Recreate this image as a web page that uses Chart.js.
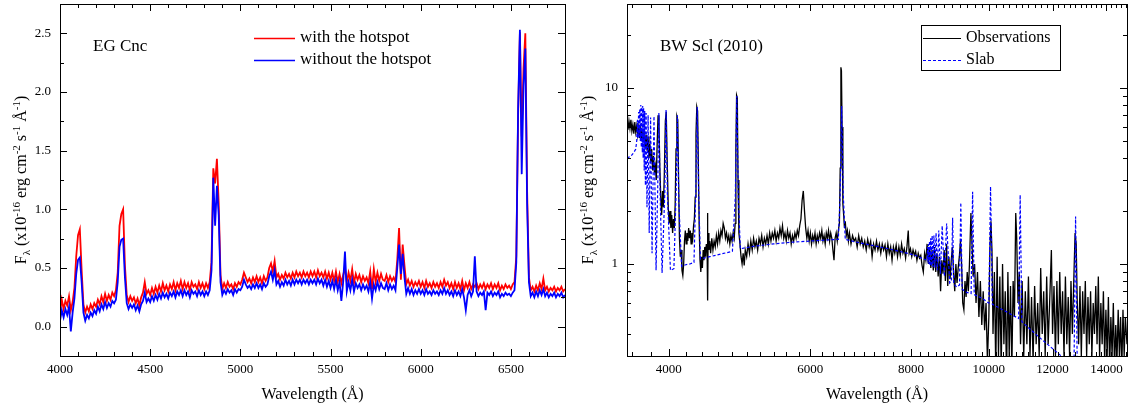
<!DOCTYPE html>
<html>
<head>
<meta charset="utf-8">
<script src="https://cdn.jsdelivr.net/npm/chart.js@4.4.1/dist/chart.umd.min.js"></script>
<style>
  html, body { margin: 0; padding: 0; background: #fff; }
  #wrap { position: relative; width: 1129px; height: 409px; }
  canvas { position: absolute; top: 0; }
  #egCanvas { left: 0; }
  #bwCanvas { left: 572px; }
</style>
</head>
<body>
<div id="wrap">
  <canvas id="egCanvas" width="572" height="409"></canvas>
  <canvas id="bwCanvas" width="557" height="409"></canvas>
</div>
<script>
// ---- EG Cnc: model spectra with / without the hotspot (10 A grid) ----
const egWave = [
  4000, 4010, 4020, 4030, 4040, 4050, 4060, 4070, 4080, 4090,
  4100, 4110, 4120, 4130, 4140, 4150, 4160, 4170, 4180, 4190,
  4200, 4210, 4220, 4230, 4240, 4250, 4260, 4270, 4280, 4290,
  4300, 4310, 4320, 4330, 4340, 4350, 4360, 4370, 4380, 4390,
  4400, 4410, 4420, 4430, 4440, 4450, 4460, 4470, 4480, 4490,
  4500, 4510, 4520, 4530, 4540, 4550, 4560, 4570, 4580, 4590,
  4600, 4610, 4620, 4630, 4640, 4650, 4660, 4670, 4680, 4690,
  4700, 4710, 4720, 4730, 4740, 4750, 4760, 4770, 4780, 4790,
  4800, 4810, 4820, 4830, 4840, 4850, 4860, 4870, 4880, 4890,
  4900, 4910, 4920, 4930, 4940, 4950, 4960, 4970, 4980, 4990,
  5000, 5010, 5020, 5030, 5040, 5050, 5060, 5070, 5080, 5090,
  5100, 5110, 5120, 5130, 5140, 5150, 5160, 5170, 5180, 5190,
  5200, 5210, 5220, 5230, 5240, 5250, 5260, 5270, 5280, 5290,
  5300, 5310, 5320, 5330, 5340, 5350, 5360, 5370, 5380, 5390,
  5400, 5410, 5420, 5430, 5440, 5450, 5460, 5470, 5480, 5490,
  5500, 5510, 5520, 5530, 5540, 5550, 5560, 5570, 5580, 5590,
  5600, 5610, 5620, 5630, 5640, 5650, 5660, 5670, 5680, 5690,
  5700, 5710, 5720, 5730, 5740, 5750, 5760, 5770, 5780, 5790,
  5800, 5810, 5820, 5830, 5840, 5850, 5860, 5870, 5880, 5890,
  5900, 5910, 5920, 5930, 5940, 5950, 5960, 5970, 5980, 5990,
  6000, 6010, 6020, 6030, 6040, 6050, 6060, 6070, 6080, 6090,
  6100, 6110, 6120, 6130, 6140, 6150, 6160, 6170, 6180, 6190,
  6200, 6210, 6220, 6230, 6240, 6250, 6260, 6270, 6280, 6290,
  6300, 6310, 6320, 6330, 6340, 6350, 6360, 6370, 6380, 6390,
  6400, 6410, 6420, 6430, 6440, 6450, 6460, 6470, 6480, 6490,
  6500, 6510, 6520, 6530, 6540, 6550, 6560, 6570, 6580, 6590,
  6600, 6610, 6620, 6630, 6640, 6650, 6660, 6670, 6680, 6690,
  6700, 6710, 6720, 6730, 6740, 6750, 6760, 6770, 6780, 6790,
  6800
];

const egWithSpot = [
  0.12, 0.23, 0.15, 0.22, 0.18, 0.26, 0.14, 0.21, 0.33, 0.60,
  0.78, 0.83, 0.48, 0.19, 0.12, 0.17, 0.13, 0.19, 0.15, 0.20,
  0.17, 0.23, 0.19, 0.26, 0.21, 0.28, 0.22, 0.27, 0.23, 0.29,
  0.26, 0.31, 0.46, 0.86, 0.96, 1.00, 0.52, 0.27, 0.21, 0.26,
  0.22, 0.25, 0.20, 0.24, 0.18, 0.25, 0.29, 0.38, 0.28, 0.31,
  0.27, 0.33, 0.28, 0.34, 0.29, 0.35, 0.30, 0.37, 0.31, 0.35,
  0.30, 0.36, 0.32, 0.38, 0.31, 0.37, 0.33, 0.39, 0.32, 0.38,
  0.33, 0.37, 0.31, 0.38, 0.34, 0.36, 0.32, 0.38, 0.33, 0.37,
  0.32, 0.37, 0.33, 0.38, 0.55, 1.35, 1.22, 1.43, 1.05, 0.44,
  0.32, 0.37, 0.33, 0.38, 0.34, 0.36, 0.32, 0.37, 0.34, 0.38,
  0.36, 0.40, 0.46, 0.42, 0.38, 0.41, 0.37, 0.42, 0.38, 0.43,
  0.38, 0.42, 0.37, 0.43, 0.39, 0.42, 0.50, 0.54, 0.47, 0.56,
  0.42, 0.45, 0.40, 0.44, 0.41, 0.46, 0.42, 0.45, 0.41, 0.46,
  0.42, 0.47, 0.43, 0.46, 0.42, 0.47, 0.43, 0.46, 0.42, 0.47,
  0.43, 0.47, 0.42, 0.48, 0.43, 0.46, 0.42, 0.47, 0.41, 0.46,
  0.40, 0.46, 0.39, 0.47, 0.38, 0.45, 0.37, 0.44, 0.50, 0.38,
  0.46, 0.39, 0.49, 0.37, 0.45, 0.40, 0.44, 0.38, 0.43, 0.39,
  0.42, 0.37, 0.47, 0.32, 0.49, 0.38, 0.46, 0.39, 0.45, 0.40,
  0.39, 0.44, 0.38, 0.43, 0.39, 0.42, 0.38, 0.57, 0.84, 0.40,
  0.70, 0.52, 0.36, 0.40, 0.35, 0.39, 0.34, 0.38, 0.35, 0.39,
  0.34, 0.38, 0.33, 0.39, 0.34, 0.37, 0.33, 0.38, 0.34, 0.37,
  0.33, 0.38, 0.34, 0.40, 0.35, 0.38, 0.33, 0.37, 0.32, 0.38,
  0.33, 0.37, 0.32, 0.39, 0.31, 0.37, 0.33, 0.38, 0.32, 0.36,
  0.34, 0.37, 0.32, 0.36, 0.33, 0.37, 0.32, 0.36, 0.33, 0.37,
  0.32, 0.36, 0.33, 0.37, 0.31, 0.35, 0.32, 0.36, 0.33, 0.35,
  0.32, 0.36, 0.38, 0.60, 1.80, 2.51, 1.62, 2.20, 2.50, 1.15,
  0.42, 0.31, 0.34, 0.30, 0.35, 0.31, 0.37, 0.32, 0.41, 0.31,
  0.34, 0.30, 0.33, 0.31, 0.34, 0.30, 0.33, 0.31, 0.34, 0.30,
  0.32
];

const egNoSpot = [
  0.05, 0.14, 0.08, 0.15, 0.10, 0.17, -0.04, 0.12, 0.24, 0.45,
  0.57, 0.59, 0.38, 0.12, 0.05, 0.10, 0.07, 0.12, 0.09, 0.14,
  0.11, 0.17, 0.13, 0.19, 0.15, 0.21, 0.16, 0.20, 0.17, 0.22,
  0.20, 0.23, 0.38, 0.68, 0.74, 0.75, 0.42, 0.20, 0.15, 0.19,
  0.16, 0.19, 0.14, 0.18, 0.13, 0.19, 0.22, 0.29, 0.21, 0.24,
  0.21, 0.26, 0.22, 0.27, 0.23, 0.28, 0.24, 0.29, 0.25, 0.28,
  0.24, 0.29, 0.26, 0.30, 0.25, 0.30, 0.27, 0.31, 0.26, 0.31,
  0.27, 0.30, 0.25, 0.31, 0.28, 0.30, 0.26, 0.31, 0.27, 0.30,
  0.26, 0.30, 0.27, 0.31, 0.48, 1.27, 0.86, 1.20, 0.95, 0.38,
  0.27, 0.31, 0.28, 0.32, 0.29, 0.31, 0.27, 0.32, 0.29, 0.32,
  0.31, 0.34, 0.40, 0.36, 0.33, 0.35, 0.32, 0.36, 0.33, 0.37,
  0.33, 0.36, 0.32, 0.37, 0.34, 0.36, 0.43, 0.47, 0.40, 0.48,
  0.36, 0.39, 0.34, 0.38, 0.35, 0.40, 0.36, 0.39, 0.35, 0.40,
  0.36, 0.40, 0.37, 0.40, 0.36, 0.40, 0.37, 0.40, 0.36, 0.40,
  0.37, 0.40, 0.36, 0.41, 0.37, 0.40, 0.35, 0.40, 0.34, 0.39,
  0.33, 0.39, 0.32, 0.40, 0.31, 0.38, 0.22, 0.38, 0.64, 0.30,
  0.38, 0.31, 0.40, 0.30, 0.37, 0.33, 0.36, 0.31, 0.36, 0.32,
  0.35, 0.30, 0.38, 0.24, 0.36, 0.31, 0.38, 0.32, 0.37, 0.33,
  0.32, 0.37, 0.31, 0.36, 0.32, 0.35, 0.31, 0.50, 0.70, 0.45,
  0.62, 0.42, 0.28, 0.33, 0.28, 0.32, 0.27, 0.31, 0.28, 0.32,
  0.28, 0.31, 0.27, 0.32, 0.28, 0.30, 0.27, 0.31, 0.28, 0.30,
  0.27, 0.31, 0.28, 0.33, 0.28, 0.31, 0.27, 0.30, 0.26, 0.31,
  0.27, 0.30, 0.26, 0.32, 0.25, 0.14, 0.27, 0.31, 0.26, 0.30,
  0.60, 0.30, 0.26, 0.29, 0.27, 0.30, 0.14, 0.29, 0.27, 0.30,
  0.26, 0.29, 0.27, 0.30, 0.25, 0.28, 0.26, 0.29, 0.27, 0.28,
  0.26, 0.29, 0.31, 0.55, 1.85, 2.53, 1.30, 2.05, 2.37, 1.05,
  0.38, 0.26, 0.29, 0.25, 0.30, 0.26, 0.31, 0.27, 0.32, 0.26,
  0.29, 0.25, 0.28, 0.26, 0.29, 0.25, 0.28, 0.26, 0.29, 0.25,
  0.27
];

const egXLabels = [4000, 4500, 5000, 5500, 6000, 6500];
const egYLabels = [0, 0.5, 1, 1.5, 2, 2.5];

// ---- BW Scl (2010): observed spectrum and slab model ----
const bwObsWave = [
  3550, 3560, 3570, 3580, 3590, 3600, 3610, 3620, 3630, 3640,
  3650, 3660, 3670, 3680, 3690, 3700, 3710, 3720, 3730, 3740,
  3750, 3760, 3770, 3780, 3790, 3800, 3810, 3820, 3830, 3840,
  3850, 3860, 3870, 3880, 3890, 3900, 3910, 3920, 3930, 3940,
  3950, 3962, 3972, 3982, 3995, 4005, 4015, 4025, 4035, 4045,
  4055, 4065, 4075, 4085, 4095, 4105, 4115, 4125, 4135, 4145,
  4155, 4165, 4175, 4185, 4195, 4205, 4215, 4225, 4235, 4245,
  4255, 4265, 4275, 4285, 4295, 4305, 4315, 4325, 4335, 4345,
  4355, 4365, 4375, 4385, 4395, 4405, 4415, 4425, 4435, 4445,
  4455, 4465, 4470, 4473, 4478, 4488, 4498, 4510, 4525, 4540,
  4555, 4570, 4585, 4600, 4615, 4630, 4645, 4660, 4675, 4690,
  4705, 4720, 4735, 4750, 4765, 4780, 4795, 4810, 4825, 4838,
  4848, 4858, 4868, 4878, 4890, 4905, 4920, 4935, 4950, 4965,
  4980, 5000, 5020, 5040, 5060, 5080, 5100, 5120, 5140, 5160,
  5180, 5200, 5220, 5240, 5260, 5280, 5300, 5320, 5340, 5360,
  5380, 5400, 5420, 5440, 5460, 5480, 5500, 5520, 5540, 5560,
  5580, 5600, 5620, 5640, 5660, 5680, 5700, 5720, 5740, 5760,
  5780, 5800, 5820, 5840, 5860, 5880, 5900, 5920, 5940, 5960,
  5980, 6000, 6020, 6040, 6060, 6080, 6100, 6120, 6140, 6160,
  6180, 6200, 6220, 6240, 6260, 6280, 6300, 6320, 6340, 6360,
  6380, 6400, 6420, 6440, 6460, 6480, 6500, 6520, 6535, 6548,
  6558, 6570, 6585, 6600, 6615, 6630, 6650, 6670, 6690, 6710,
  6740, 6770, 6800, 6830, 6860, 6890, 6920, 6950, 6980, 7010,
  7040, 7070, 7100, 7130, 7160, 7190, 7220, 7250, 7280, 7310,
  7340, 7370, 7400, 7430, 7460, 7490, 7520, 7550, 7580, 7610,
  7640, 7670, 7700, 7730, 7760, 7790, 7820, 7850, 7880, 7910,
  7940, 7960, 7990, 8020, 8050, 8080, 8110, 8140, 8170, 8200,
  8230, 8260, 8290, 8320, 8350, 8380, 8410, 8440, 8470, 8500,
  8530, 8560, 8590, 8620, 8650, 8680, 8710, 8740, 8770, 8800,
  8830, 8860, 8890, 8920, 8950, 8980, 9010, 9040, 9070, 9100,
  9130, 9160, 9190, 9220, 9250, 9280, 9310, 9340, 9370, 9400,
  9430, 9460, 9500, 9530, 9560, 9600, 9640, 9680, 9720, 9760,
  9800, 9840, 9880, 9920, 9960, 10000, 10030, 10060, 10090, 10120,
  10160, 10200, 10240, 10280, 10320, 10360, 10400, 10440, 10480, 10520,
  10560, 10600, 10640, 10680, 10720, 10760, 10800, 10830, 10870, 10910,
  10950, 11000, 11050, 11100, 11150, 11200, 11250, 11300, 11350, 11400,
  11450, 11500, 11550, 11600, 11650, 11700, 11750, 11800, 11850, 11900,
  11960, 12000, 12050, 12100, 12150, 12200, 12250, 12300, 12350, 12400,
  12450, 12500, 12550, 12600, 12650, 12700, 12760, 12800, 12840, 12880,
  12930, 12980, 13030, 13080, 13130, 13180, 13230, 13280, 13330, 13380,
  13430, 13480, 13530, 13580, 13630, 13680, 13730, 13780, 13830, 13880,
  13930, 13980, 14030, 14080, 14130, 14180, 14230, 14280, 14330, 14380,
  14430, 14480, 14530, 14580, 14630, 14680, 14730, 14780, 14850
];

const bwObsFlux = [
  6.3, 5.8, 6.5, 5.9, 6.6, 5.7, 6.2, 5.5, 6.4, 5.6,
  6.1, 5.4, 6.0, 5.2, 6.1, 5.0, 5.8, 4.9, 5.7, 4.6,
  5.4, 4.4, 5.3, 4.0, 4.8, 3.8, 4.5, 3.4, 4.1, 3.3,
  3.6, 3.0, 4.8, 7.0, 6.2, 3.5, 2.4, 1.9, 2.6, 2.1,
  3.2, 6.5, 7.3, 4.0, 2.1, 1.7, 2.0, 1.6, 1.9, 1.5,
  1.8, 1.6, 2.2, 4.5, 6.9, 6.6, 3.0, 1.4, 1.1, 1.2,
  0.92, 0.86, 1.0, 1.35, 1.55, 1.3, 1.5, 1.35, 1.6, 1.4,
  1.55, 1.3, 1.5, 1.4, 1.65, 1.8, 2.4, 5.5, 7.8, 7.4,
  3.5, 1.6, 1.05, 0.9, 1.1, 0.95, 1.2, 1.05, 1.25, 1.1,
  1.3, 1.2, 1.95, 0.62, 1.5, 1.2, 1.35, 1.15, 1.4, 1.2,
  1.35, 1.25, 1.45, 1.3, 1.5, 1.35, 1.55, 1.45, 1.7, 1.6,
  1.4, 1.5, 1.35, 1.45, 1.3, 1.45, 1.35, 1.5, 1.4, 1.7,
  4.5, 9.1, 8.8, 3.0, 1.5, 1.3, 1.1, 1.0, 1.15, 0.98,
  1.2, 1.1, 1.3, 1.15, 1.35, 1.2, 1.4, 1.25, 1.35, 1.2,
  1.4, 1.3, 1.45, 1.25, 1.4, 1.3, 1.45, 1.3, 1.5, 1.35,
  1.5, 1.4, 1.55, 1.35, 1.5, 1.4, 1.6, 1.45, 1.65, 1.4,
  1.5, 1.35, 1.55, 1.4, 1.5, 1.3, 1.45, 1.35, 1.5, 1.4,
  1.55, 1.45, 1.65, 1.8, 2.3, 2.6, 2.0, 1.6, 1.4, 1.55,
  1.35, 1.5, 1.3, 1.45, 1.35, 1.5, 1.3, 1.45, 1.35, 1.5,
  1.4, 1.55, 1.35, 1.45, 1.3, 1.5, 1.4, 1.55, 1.35, 1.5,
  1.4, 1.2, 1.05, 1.4, 1.5, 1.35, 1.55, 1.7, 3.5, 13.1,
  12.5, 6.0, 2.2, 1.9, 1.6, 1.75, 1.45, 1.55, 1.35, 1.5,
  1.3, 1.45, 1.35, 1.4, 1.25, 1.45, 1.3, 1.4, 1.25, 1.35,
  1.2, 1.38, 1.25, 1.35, 1.1, 1.3, 1.2, 1.35, 1.2, 1.3,
  1.15, 1.3, 1.2, 1.28, 1.1, 1.3, 1.15, 1.25, 1.05, 1.25,
  1.15, 1.28, 1.1, 1.25, 1.12, 1.3, 1.15, 1.22, 1.08, 1.25,
  1.55, 1.15, 1.22, 1.1, 1.2, 1.12, 1.18, 1.05, 1.15, 1.08,
  1.12, 0.98, 0.9, 1.15, 1.05, 1.3, 1.0, 1.25, 0.95, 1.2,
  0.92, 1.25, 0.9, 1.15, 0.85, 1.1, 0.7, 1.05, 0.88, 1.2,
  0.8, 1.3, 0.75, 1.1, 0.82, 1.05, 1.25, 0.9, 0.7, 1.0,
  0.78, 0.95, 1.1, 1.35, 1.0, 0.6, 0.55, 0.8, 0.65, 0.9,
  0.7, 1.0, 1.95, 1.3, 0.85, 1.0, 0.6, 0.9, 0.5, 0.8,
  0.45, 0.7, 0.42, 0.6, 0.28, 0.5, 1.2, 1.75, 1.2, 0.4,
  0.9, 0.25, 1.1, 0.3, 0.85, 0.25, 1.0, 0.35, 0.7, 0.22,
  0.9, 0.3, 0.75, 0.25, 0.8, 0.5, 1.95, 1.4, 0.6, 0.9,
  0.35, 0.8, 0.3, 0.7, 0.35, 0.85, 0.3, 0.65, 0.28, 0.75,
  0.35, 0.6, 0.3, 0.95, 0.4, 0.7, 0.3, 0.85, 0.35, 0.6,
  1.2, 0.4, 0.75, 0.3, 0.8, 0.35, 0.9, 0.4, 0.7, 0.3,
  0.85, 0.35, 0.65, 0.3, 0.8, 0.4, 0.9, 1.5, 1.3, 0.6,
  0.35, 0.75, 0.3, 0.7, 0.4, 0.8, 0.3, 0.65, 0.35, 0.7,
  0.3, 0.6, 0.4, 0.75, 0.35, 0.85, 0.3, 0.6, 0.35, 0.7,
  0.28, 0.55, 0.3, 0.65, 0.25, 0.5, 0.3, 0.6, 0.25, 0.45,
  0.28, 0.55, 0.3, 0.5, 0.25, 0.55, 0.3, 0.5, 0.35
];

const slabWave = [
  3550, 3590, 3620, 3640, 3650, 3658, 3664, 3670, 3676, 3682,
  3688, 3693, 3698, 3704, 3709, 3713, 3718, 3723, 3729, 3735,
  3742, 3750, 3759, 3771, 3783, 3798, 3814, 3835, 3858, 3875,
  3889, 3903, 3925, 3955, 3970, 3985, 4020, 4060, 4085, 4101,
  4117, 4150, 4200, 4250, 4300, 4322, 4340, 4358, 4380, 4500,
  4650, 4800, 4840, 4861, 4882, 4910, 5100, 5400, 5700, 6000,
  6300, 6500, 6535, 6563, 6592, 6630, 6900, 7200, 7500, 7800,
  8100, 8250, 8380, 8392, 8403, 8413, 8425, 8438, 8452, 8467,
  8485, 8502, 8523, 8545, 8570, 8598, 8630, 8665, 8705, 8750,
  8805, 8862, 8940, 8985, 9015, 9045, 9120, 9195, 9229, 9263,
  9380, 9505, 9546, 9590, 9800, 10000, 10049, 10100, 10400, 10890,
  10938, 10990, 11500, 12200, 12760, 12818, 12880, 14850
];

const slabFlux = [
  4.0, 4.1, 4.3, 4.5, 5.0, 6.6, 5.2, 7.3, 5.3, 7.6,
  5.0, 8.0, 4.6, 7.8, 4.3, 7.9, 4.0, 7.7, 3.4, 7.4,
  2.8, 7.2, 2.1, 7.0, 1.5, 6.8, 1.15, 6.9, 0.92, 2.5,
  7.2, 2.5, 0.89, 2.5, 7.5, 2.5, 0.92, 0.94, 2.5, 7.0,
  2.3, 0.97, 0.99, 1.0, 1.02, 2.5, 7.8, 2.5, 1.07, 1.1,
  1.14, 1.18, 2.4, 9.0, 2.4, 1.22, 1.26, 1.3, 1.33, 1.35,
  1.37, 1.38, 2.5, 7.9, 2.5, 1.38, 1.32, 1.27, 1.22, 1.17,
  1.12, 1.08, 1.05, 1.25, 1.02, 1.3, 1.0, 1.35, 0.98, 1.4,
  0.97, 1.45, 0.96, 1.45, 0.95, 1.5, 0.92, 1.55, 0.88, 1.65,
  0.85, 1.7, 0.78, 0.8, 1.83, 0.77, 0.74, 0.76, 2.23, 0.72,
  0.69, 0.68, 2.57, 0.67, 0.64, 0.6, 2.75, 0.59, 0.55, 0.49,
  2.47, 0.47, 0.39, 0.31, 0.26, 1.86, 0.25, 0.17
];

const bwXLabels = [4000, 6000, 8000, 10000, 12000, 14000];
const bwYLabels = [1, 10];

// ---- shared look ----
const SERIF = '"Liberation Serif", "Times New Roman", serif';
Chart.defaults.font.family = SERIF;
Chart.defaults.color = '#000';

const fluxTitle = [
  { t: 'F', s: 16 }, { t: 'λ', s: 11, dy: 4 },
  { t: ' (x10', s: 16 }, { t: '-16', s: 11, dy: -6 },
  { t: ' erg cm', s: 16 }, { t: '-2', s: 11, dy: -6 },
  { t: ' s', s: 16 }, { t: '-1', s: 11, dy: -6 },
  { t: ' Å', s: 16 }, { t: '-1', s: 11, dy: -6 },
  { t: ')', s: 16 }
];

function drawRich(ctx, runs, cx, cy, angle) {
  ctx.save();
  ctx.translate(cx, cy);
  ctx.rotate(angle);
  let total = 0;
  const widths = runs.map(r => {
    ctx.font = r.s + 'px ' + SERIF;
    const w = ctx.measureText(r.t).width;
    total += w;
    return w;
  });
  let x = -total / 2;
  ctx.textBaseline = 'alphabetic';
  ctx.textAlign = 'left';
  runs.forEach((r, i) => {
    ctx.font = r.s + 'px ' + SERIF;
    ctx.fillText(r.t, x, 5.5 + (r.dy || 0));
    x += widths[i];
  });
  ctx.restore();
}

// frame round the plot area with inward ticks on all four sides
const frameTicks = {
  id: 'frameTicks',
  afterDatasetsDraw(chart, args, o) {
    const { ctx, chartArea: a, scales } = chart;
    ctx.save();
    ctx.strokeStyle = '#000';
    ctx.lineWidth = 1;
    ctx.beginPath();
    o.xTicks.forEach(t => {
      const px = Math.round(scales.x.getPixelForValue(t.v)) + 0.5;
      ctx.moveTo(px, a.bottom); ctx.lineTo(px, a.bottom - t.len);
      ctx.moveTo(px, a.top); ctx.lineTo(px, a.top + t.len);
    });
    o.yTicks.forEach(t => {
      const py = Math.round(scales.y.getPixelForValue(t.v)) + 0.5;
      ctx.moveTo(a.left, py); ctx.lineTo(a.left + t.len, py);
      ctx.moveTo(a.right, py); ctx.lineTo(a.right - t.len, py);
    });
    ctx.stroke();
    ctx.strokeRect(Math.round(a.left) + 0.5, Math.round(a.top) + 0.5,
      Math.round(a.right - a.left), Math.round(a.bottom - a.top));
    ctx.restore();
  }
};

// object name, legend and axis titles
const annotate = {
  id: 'annotate',
  afterDraw(chart, args, o) {
    const { ctx, chartArea: a } = chart;
    ctx.save();
    ctx.fillStyle = '#000';
    ctx.textBaseline = 'middle';
    ctx.textAlign = 'left';
    ctx.font = o.nameSize + 'px ' + SERIF;
    ctx.fillText(o.name, o.nameX, o.nameY);

    const L = o.legend;
    if (L.box) {
      ctx.strokeStyle = '#000';
      ctx.lineWidth = 1;
      ctx.strokeRect(L.box[0] + 0.5, L.box[1] + 0.5, L.box[2], L.box[3]);
    }
    ctx.font = L.size + 'px ' + SERIF;
    chart.data.datasets.forEach((ds, i) => {
      const y = L.y + i * L.row;
      ctx.strokeStyle = ds.borderColor;
      ctx.lineWidth = L.lineWidth;
      ctx.setLineDash(ds.borderDash || []);
      ctx.beginPath();
      ctx.moveTo(L.x, y + 0.5);
      ctx.lineTo(L.x + L.len, y + 0.5);
      ctx.stroke();
      ctx.setLineDash([]);
      ctx.fillText(ds.label, L.x + L.len + L.gap, y);
    });

    drawRich(ctx, fluxTitle, o.yTitleX, (a.top + a.bottom) / 2, -Math.PI / 2);
    ctx.font = '16px ' + SERIF;
    ctx.textAlign = 'center';
    ctx.fillText('Wavelength (Å)', (a.left + a.right) / 2, o.xTitleY);
    ctx.restore();
  }
};

function pairs(xs, ys) {
  return xs.map((x, i) => ({ x: x, y: ys[i] }));
}

function tickList(from, to, step, majors) {
  const out = [];
  for (let v = from; v <= to + 1e-9; v += step) {
    const r = Math.round(v * 1000) / 1000;
    out.push({ v: r, len: majors.includes(r) ? 7 : 4 });
  }
  return out;
}

// fixed plot box: no extra room for half tick labels
function fixSize(w, h) {
  return s => {
    if (w !== null) s.width = w;
    if (h !== null) s.height = h;
    s.paddingTop = 0; s.paddingBottom = 0;
    s.paddingLeft = 0; s.paddingRight = 0;
  };
}

const hidden = { grid: { display: false, drawTicks: false }, border: { display: false } };

// ---- left: EG Cnc ----
new Chart(document.getElementById('egCanvas'), {
  type: 'line',
  data: {
    datasets: [
      {
        label: 'with the hotspot',
        data: pairs(egWave, egWithSpot),
        borderColor: '#ff0000',
        borderWidth: 1.8,
        order: 1
      },
      {
        label: 'without the hotspot',
        data: pairs(egWave, egNoSpot),
        borderColor: '#0000ff',
        borderWidth: 1.8,
        order: 0
      }
    ]
  },
  options: {
    responsive: false,
    animation: false,
    events: [],
    elements: { point: { radius: 0 }, line: { tension: 0 } },
    layout: { padding: { left: 0, right: 7, top: 4, bottom: 0 } },
    scales: {
      x: Object.assign({}, hidden, {
        type: 'linear', min: 4000, max: 6800,
        afterFit: fixSize(null, 53),
        afterBuildTicks: s => { s.ticks = egXLabels.map(v => ({ value: v })); },
        ticks: { font: { size: 13 }, autoSkip: false, maxRotation: 0, padding: 6,
          callback: v => String(v) }
      }),
      y: Object.assign({}, hidden, {
        type: 'linear', min: -0.25, max: 2.75,
        afterFit: fixSize(60, null),
        afterBuildTicks: s => { s.ticks = egYLabels.map(v => ({ value: v })); },
        ticks: { font: { size: 13 }, autoSkip: false, padding: 9,
          callback: v => Number(v).toFixed(1) }
      })
    },
    plugins: {
      legend: { display: false },
      tooltip: { enabled: false },
      frameTicks: {
        xTicks: tickList(4000, 6800, 100, egXLabels),
        yTicks: tickList(-0.25, 2.75, 0.25, egYLabels)
      },
      annotate: {
        name: 'EG Cnc', nameX: 93, nameY: 47, nameSize: 17,
        legend: { x: 254, y: 38, row: 22, len: 41, gap: 5, size: 17, lineWidth: 1.5 },
        yTitleX: 20, xTitleY: 395
      }
    }
  },
  plugins: [frameTicks, annotate]
});

// ---- right: BW Scl ----
const bwMinor = [];
for (let w = 3600; w <= 14800; w += 200) bwMinor.push(w);
const bwYTickVals = [0.3, 0.4, 0.5, 0.6, 0.7, 0.8, 0.9, 1, 2, 3, 4, 5, 6, 7, 8, 9, 10, 20, 30];

new Chart(document.getElementById('bwCanvas'), {
  type: 'line',
  data: {
    datasets: [
      {
        label: 'Observations',
        data: pairs(bwObsWave, bwObsFlux),
        borderColor: '#000000',
        borderWidth: 1.3,
        order: 1
      },
      {
        label: 'Slab',
        data: pairs(slabWave, slabFlux),
        borderColor: '#0000ff',
        borderWidth: 1.2,
        borderDash: [3, 2],
        order: 0
      }
    ]
  },
  options: {
    responsive: false,
    animation: false,
    events: [],
    elements: { point: { radius: 0 }, line: { tension: 0 } },
    layout: { padding: { left: 0, right: 2, top: 4, bottom: 0 } },
    scales: {
      x: Object.assign({}, hidden, {
        type: 'logarithmic', min: 3550, max: 14850,
        afterFit: fixSize(null, 53),
        afterBuildTicks: s => { s.ticks = bwXLabels.map(v => ({ value: v })); },
        ticks: { font: { size: 13 }, autoSkip: false, maxRotation: 0, padding: 6,
          callback: v => String(v) }
      }),
      y: Object.assign({}, hidden, {
        type: 'logarithmic', min: 0.3, max: 30,
        afterFit: fixSize(55, null),
        afterBuildTicks: s => { s.ticks = bwYLabels.map(v => ({ value: v })); },
        ticks: { font: { size: 13 }, autoSkip: false, padding: 9,
          callback: v => String(v) }
      })
    },
    plugins: {
      legend: { display: false },
      tooltip: { enabled: false },
      frameTicks: {
        xTicks: bwMinor.map(w => ({ v: w, len: bwXLabels.includes(w) ? 7 : 4 })),
        yTicks: bwYTickVals.map(v => ({ v: v, len: bwYLabels.includes(v) ? 7 : 4 }))
      },
      annotate: {
        name: 'BW Scl (2010)', nameX: 88, nameY: 47, nameSize: 17,
        legend: { x: 351, y: 38, row: 22, len: 38, gap: 5, size: 16, lineWidth: 1.2,
          box: [349, 25, 139, 45] },
        yTitleX: 15, xTitleY: 395
      }
    }
  },
  plugins: [frameTicks, annotate]
});
</script>
</body>
</html>
